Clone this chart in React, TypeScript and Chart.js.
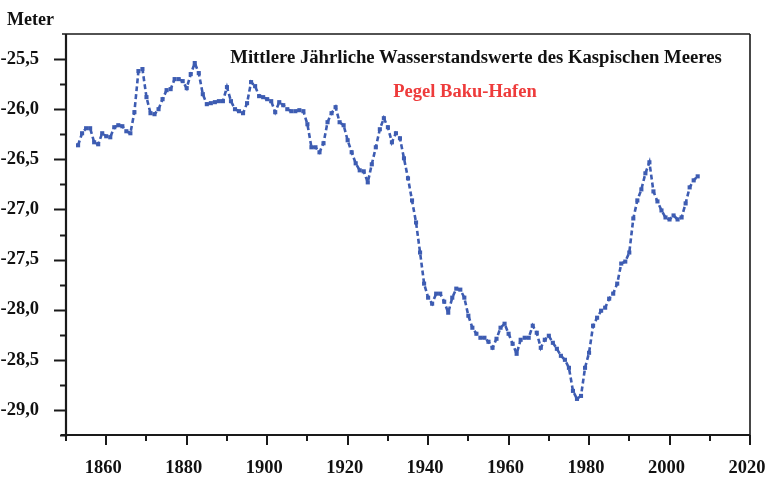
import React, { useEffect, useRef } from "react";
import { Chart, registerables } from "chart.js";

Chart.register(...registerables);

// ---- data ----
const startYear = 1853;
const seaLevel: number[] = [
  // 1853-1859
  -26.36, -26.24, -26.19, -26.19, -26.33, -26.35, -26.24,
  // 1860-1869
  -26.27, -26.28, -26.18, -26.16, -26.17, -26.22, -26.24, -26.03, -25.62, -25.6,
  // 1870-1879
  -25.88, -26.04, -26.05, -26.0, -25.9, -25.81, -25.8, -25.7, -25.7, -25.72,
  // 1880-1889
  -25.79, -25.65, -25.54, -25.64, -25.85, -25.95, -25.94, -25.93, -25.92, -25.92,
  // 1890-1899
  -25.78, -25.92, -26.0, -26.02, -26.04, -25.94, -25.73, -25.77, -25.87, -25.88,
  // 1900-1909
  -25.9, -25.92, -26.03, -25.93, -25.96, -26.0, -26.02, -26.02, -26.01, -26.02,
  // 1910-1919
  -26.15, -26.38, -26.38, -26.43, -26.34, -26.13, -26.04, -25.98, -26.13, -26.16,
  // 1920-1929
  -26.31, -26.43, -26.54, -26.61, -26.62, -26.73, -26.55, -26.38, -26.2, -26.09,
  // 1930-1939
  -26.18, -26.33, -26.24, -26.29, -26.49, -26.69, -26.91, -27.13, -27.43, -27.74,
  // 1940-1949
  -27.88, -27.94, -27.84, -27.84, -27.92, -28.03, -27.88, -27.79, -27.8, -27.88,
  // 1950-1959
  -28.06, -28.18, -28.24, -28.28, -28.28, -28.32, -28.38, -28.29, -28.18, -28.14,
  // 1960-1969
  -28.24, -28.34, -28.44, -28.3, -28.28, -28.28, -28.16, -28.23, -28.38, -28.3,
  // 1970-1979
  -28.26, -28.33, -28.39, -28.46, -28.5, -28.58, -28.81, -28.89, -28.86, -28.58,
  // 1980-1989
  -28.43, -28.16, -28.08, -28.01, -27.98, -27.89, -27.84, -27.74, -27.54, -27.52,
  // 1990-1999
  -27.43, -27.09, -26.91, -26.8, -26.64, -26.53, -26.82, -26.92, -27.01, -27.08,
  // 2000-2007
  -27.1, -27.06, -27.1, -27.08, -26.94, -26.78, -26.71, -26.67,
];
const years: number[] = seaLevel.map((_, i) => startYear + i);

const xTickValues = [1860, 1880, 1900, 1920, 1940, 1960, 1980, 2000, 2020];
const xMinorTickValues = [1850, 1870, 1890, 1910, 1930, 1950, 1970, 1990, 2010];
const yTickValues = [-29.0, -28.5, -28.0, -27.5, -27.0, -26.5, -26.0, -25.5];
const yMinorTickValues = [-29.25, -28.75, -28.25, -27.75, -27.25, -26.75, -26.25, -25.75];

const titleText = "Mittlere Jährliche Wasserstandswerte des Kaspischen Meeres";
const subtitleText = "Pegel Baku-Hafen";
const unitText = "Meter";

const LINE_COLOR = "#3d5cb2";
const FONT = '"Liberation Serif", "Times New Roman", serif';

const framePlugin = {
  id: "frameTicks",
  afterDraw(chart: any) {
    const { ctx, chartArea, scales } = chart;
    const { left, right, top, bottom } = chartArea;
    ctx.save();
    ctx.strokeStyle = "#1a1a1a";
    ctx.lineCap = "butt";
    // top and right border
    ctx.lineWidth = 1.6;
    ctx.beginPath();
    ctx.moveTo(left - 4, top);
    ctx.lineTo(right, top);
    ctx.moveTo(right, top);
    ctx.lineTo(right, bottom);
    ctx.stroke();
    // left and bottom axes
    ctx.lineWidth = 2.2;
    ctx.beginPath();
    ctx.moveTo(left, top);
    ctx.lineTo(left, bottom + 2);
    ctx.moveTo(left - 5, bottom);
    ctx.lineTo(right, bottom);
    ctx.stroke();
    // y ticks
    ctx.lineWidth = 2;
    ctx.beginPath();
    yTickValues.forEach((v) => {
      const y = Math.round(scales.y.getPixelForValue(v)) + 0.5;
      ctx.moveTo(left - 12, y);
      ctx.lineTo(left, y);
    });
    yMinorTickValues.forEach((v) => {
      const y = Math.round(scales.y.getPixelForValue(v)) + 0.5;
      ctx.moveTo(left - 6, y);
      ctx.lineTo(left, y);
    });
    // x ticks
    xTickValues.forEach((v) => {
      const x = Math.round(scales.x.getPixelForValue(v));
      ctx.moveTo(x, bottom);
      ctx.lineTo(x, bottom + 10);
    });
    xMinorTickValues.forEach((v) => {
      const x = Math.round(scales.x.getPixelForValue(v));
      ctx.moveTo(x, bottom);
      ctx.lineTo(x, bottom + 6);
    });
    ctx.stroke();
    ctx.restore();
  },
};

export default function App() {
  const canvasRef = useRef<HTMLCanvasElement | null>(null);

  useEffect(() => {
    if (!canvasRef.current) return;
    const points = years.map((yr, i) => ({ x: yr, y: seaLevel[i] }));
    const chart = new Chart(canvasRef.current, {
      type: "line",
      data: {
        datasets: [
          {
            data: points,
            borderColor: LINE_COLOR,
            backgroundColor: LINE_COLOR,
            borderWidth: 2.6,
            borderDash: [5, 3],
            pointStyle: "rect",
            pointRadius: 2.9,
            pointBorderWidth: 0,
            pointHoverRadius: 2.9,
            tension: 0,
            fill: false,
          },
        ],
      },
      options: {
        animation: false,
        responsive: false,
        devicePixelRatio: 1,
        layout: { padding: { top: 34, right: 16, left: 0, bottom: 0 } },
        plugins: {
          legend: { display: false },
          title: { display: false },
          tooltip: { enabled: false },
        },
        scales: {
          x: {
            type: "linear",
            min: 1850,
            max: 2020,
            grid: { display: false },
            border: { display: false },
            afterBuildTicks: (s: any) => {
              s.ticks = xTickValues.map((v) => ({ value: v }));
            },
            afterFit: (s: any) => {
              s.height = 42;
              s.paddingLeft = 0;
              s.paddingRight = 0;
            },
            ticks: {
              autoSkip: false,
              maxRotation: 0,
              padding: 14,
              labelOffset: -3,
              color: "#111",
              font: { family: FONT, size: 18.5, weight: "bold" },
              callback: (v: any) => String(v),
            },
          },
          y: {
            type: "linear",
            min: -29.25,
            max: -25.25,
            grid: { display: false },
            border: { display: false },
            afterBuildTicks: (s: any) => {
              s.ticks = yTickValues.map((v) => ({ value: v }));
            },
            afterFit: (s: any) => {
              s.width = 66;
              s.paddingTop = 0;
              s.paddingBottom = 0;
            },
            ticks: {
              autoSkip: false,
              padding: 19,
              color: "#111",
              font: { family: FONT, size: 18.5, weight: "bold" },
              callback: (v: any) => Number(v).toFixed(1).replace(".", ","),
            },
          },
        },
      },
      plugins: [framePlugin],
    });
    return () => chart.destroy();
  }, []);

  const textBase: React.CSSProperties = {
    position: "absolute",
    fontFamily: FONT,
    fontWeight: "bold",
    lineHeight: 1,
    whiteSpace: "nowrap",
  };

  return (
    <div
      style={{
        position: "fixed",
        left: 0,
        top: 0,
        width: 766,
        height: 477,
        background: "#fff",
      }}
    >
      <canvas ref={canvasRef} width={766} height={477} style={{ display: "block" }} />
      <div style={{ ...textBase, left: 7, top: 10, fontSize: 18, color: "#111" }}>{unitText}</div>
      <div
        style={{
          ...textBase,
          left: 476,
          top: 48,
          fontSize: 18.7,
          color: "#111",
          transform: "translateX(-50%)",
        }}
      >
        {titleText}
      </div>
      <div
        style={{
          ...textBase,
          left: 465,
          top: 82,
          fontSize: 18.5,
          color: "#ee3b3b",
          transform: "translateX(-50%)",
        }}
      >
        {subtitleText}
      </div>
    </div>
  );
}
